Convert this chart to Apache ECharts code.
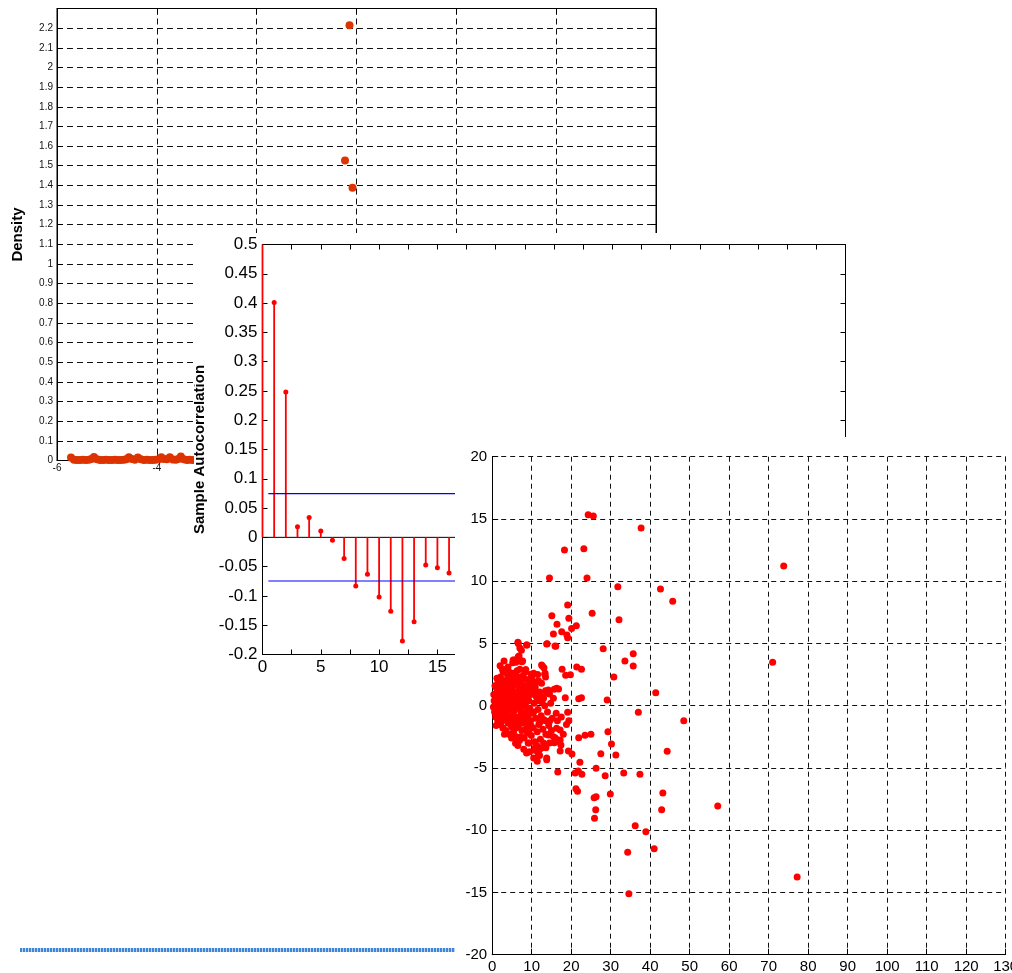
<!DOCTYPE html>
<html>
<head>
<meta charset="utf-8">
<script src="https://cdn.jsdelivr.net/npm/echarts@6/dist/echarts.min.js"></script>
<style>
  html, body { margin: 0; padding: 0; width: 1012px; height: 973px; overflow: hidden; background: #fff; }
  .panel { position: absolute; background: #fff; }
  #band { position: absolute; left: 20px; top: 948px; width: 435px; height: 4px;
          background: repeating-linear-gradient(90deg, #3f86d8 0 2px, #bcd6f2 2px 3px); }
</style>
</head>
<body>
<div id="band"></div>
<div id="density" class="panel" style="left:0;top:0;width:700px;height:500px"></div>
<div id="acf" class="panel" style="left:194px;top:233px;width:670px;height:455px"></div>
<div id="pca" class="panel" style="left:455px;top:437px;width:557px;height:536px"></div>
<script>
// ---------- data ----------
// kernel density estimate: [x, density]
const densityPoints = [
  [-5.72,0.015],[-5.66,0.004],[-5.60,0.003],[-5.54,0.003],[-5.48,0.004],[-5.42,0.003],
  [-5.36,0.004],[-5.31,0.008],[-5.26,0.018],[-5.20,0.006],[-5.14,0.003],[-5.08,0.003],
  [-5.02,0.004],[-4.96,0.003],[-4.90,0.003],[-4.84,0.004],[-4.78,0.003],[-4.72,0.003],
  [-4.66,0.004],[-4.61,0.006],[-4.56,0.016],[-4.50,0.008],[-4.44,0.004],[-4.38,0.015],
  [-4.32,0.006],[-4.26,0.003],[-4.20,0.004],[-4.14,0.003],[-4.08,0.003],[-4.02,0.004],
  [-3.96,0.006],[-3.91,0.016],[-3.86,0.007],[-3.80,0.006],[-3.74,0.016],[-3.68,0.005],
  [-3.62,0.004],[-3.57,0.008],[-3.52,0.020],[-3.46,0.006],[-3.40,0.003],[-3.34,0.004],
  [-3.28,0.003],
  [-0.23,1.527],[-0.14,2.215],[-0.08,1.388]
];
const densityXTicks = { min: -6, max: 6, step: 2 };
const densityYTicks = { min: 0, max: 2.3, step: 0.1 };

// sample autocorrelation by lag
const lags = [0,1,2,3,4,5,6,7,8,9,10,11,12,13,14,15,16];
const acf = [1, 0.401, 0.248, 0.018, 0.034, 0.011, -0.005, -0.036, -0.083, -0.063,
             -0.102, -0.126, -0.177, -0.144, -0.047, -0.052, -0.061];
const acfBound = 0.0745;
const boundLags = [0.5, 20];

// component scores: [x, y]
const scorePoints = [
  [24.3,15.34],[25.6,15.24],[37.7,14.27],[18.3,12.5],[23.2,12.6],[14.5,10.26],[24.0,10.26],
  [31.8,9.56],[42.6,9.37],[45.7,8.38],[19.1,8.09],[15.1,7.23],[19.4,7.02],[25.3,7.42],
  [32.1,6.91],[16.4,6.54],[21.3,6.43],[20.1,6.21],[17.6,5.94],[15.5,5.76],[18.9,5.68],
  [19.1,5.46],[13.9,4.98],[16.1,4.77],[28.1,4.58],[35.7,4.18],[33.6,3.59],[35.7,3.19],
  [8.8,4.88],[6.5,5.09],[7.0,4.63],[7.4,4.45],[6.8,3.99],[5.6,3.67],[7.7,3.59],[5.2,3.45],
  [7.0,2.92],[12.7,3.19],[13.1,3.05],[17.7,2.92],[21.4,3.11],[22.6,2.92],[9.8,2.52],
  [13.3,2.52],[18.6,2.44],[19.8,2.49],[13.5,2.3],[30.8,2.3],[11.7,2.01],[10.5,1.53],
  [15.7,1.32],[16.8,1.34],[13.5,1.2],[41.4,1.04],[11.4,1.04],[14.5,0.94],[12.7,0.72],
  [18.5,0.64],[21.9,0.56],[22.6,0.64],[29.1,0.46],
  [73.8,11.22],[71.0,3.49],[77.2,-13.76],[57.1,-8.06],
  [37.0,-0.53],[48.5,-1.2],[19.1,-0.53],[19.4,-1.2],[18.8,-1.52],[29.3,-2.09],[30.2,-3.08],
  [31.3,-3.96],[44.3,-3.66],[27.5,-3.86],[25.0,-2.3],[23.5,-2.38],[21.9,-2.57],[19.3,-3.64],
  [20.2,-3.88],[22.2,-4.55],[26.3,-5.03],[21.0,-5.41],[21.8,-5.24],[22.7,-5.51],[33.3,-5.41],
  [37.4,-5.51],[28.6,-5.62],[16.6,-5.33],[21.2,-6.67],[21.6,-6.88],[25.8,-7.39],[26.3,-7.31],
  [29.9,-7.09],[43.2,-7.01],[42.9,-8.35],[26.2,-8.35],[25.9,-9.05],[36.2,-9.64],[38.9,-10.12],
  [41.0,-11.49],[34.3,-11.78],[34.6,-15.1],
  [13.8,-4.34],[11.4,-4.47],[8.9,-3.74],[5.9,-3.02],[11.9,-3.56],[17.2,-3.64],[17.4,-3.16],
  [13.6,-3.37],[15.7,-2.97],[15.5,-2.49],[18.0,-2.3],[17.2,-2.75],[16.3,-1.82],[14.6,-1.2],
  [16.2,-0.61],
  [0.3,-0.1],[0.5,0.4],[0.6,-0.5],[0.8,0.9],[0.9,-0.9],[1.0,0.2],[1.1,1.4],[1.2,-0.3],
  [1.3,0.7],[1.4,-1.2],[1.5,1.9],[1.6,0.0],[1.7,-0.7],[1.8,1.1],[1.9,0.4],[2.0,-1.5],
  [2.1,2.3],[2.2,-0.2],[2.3,0.9],[2.4,-0.9],[2.5,1.6],[2.6,0.2],[2.7,-1.8],[2.8,2.7],
  [2.9,-0.5],[3.0,1.2],[3.1,0.5],[3.2,-1.1],[3.3,2.0],[3.4,-0.1],[3.5,-2.0],[3.6,1.5],
  [3.7,0.8],[3.8,-0.6],[3.9,2.4],[4.0,-1.4],[4.1,0.1],[4.2,1.0],[4.3,-2.3],[4.4,1.8],
  [4.5,-0.3],[4.6,0.6],[4.7,-1.0],[4.8,2.2],[4.9,-1.7],[5.0,0.3],[5.1,1.3],[5.2,-0.8],
  [5.3,2.6],[5.4,-2.1],[5.5,0.9],[5.6,-0.4],[5.7,1.7],[5.8,-1.3],[5.9,0.0],[6.0,2.0],
  [6.1,-2.5],[6.2,1.1],[6.3,-0.9],[6.4,0.5],[6.5,2.3],[6.6,-1.6],[6.7,-0.2],[6.8,1.5],
  [6.9,-2.8],[7.0,0.8],[7.1,-1.1],[7.2,1.9],[7.3,-0.5],[7.4,0.2],[7.5,-2.0],[7.6,1.2],
  [7.7,-1.4],[7.8,2.4],[7.9,-0.7],[8.0,0.6],[8.1,-2.6],[8.2,1.6],[8.3,-1.0],[8.4,0.1],
  [8.5,-1.9],[8.6,2.1],[8.7,-0.4],[8.8,1.0],[8.9,-2.2],[9.0,-0.9],[9.1,1.4],[9.2,-1.5],
  [9.3,0.4],[9.4,-3.0],[9.5,-0.2],[9.6,1.8],[9.7,-1.2],[9.8,0.9],[9.9,-2.4],[10.0,-0.6],
  [10.2,1.3],[10.4,-1.8],[10.6,0.2],[10.8,-2.9],[11.0,-1.0],[11.2,0.7],[11.4,-2.1],[11.6,-0.3],
  [11.8,-1.5],[12.0,1.1],[12.2,-2.7],[12.4,-0.8],[12.6,0.3],[12.8,-1.9],[13.0,-1.1],[13.3,0.0],
  [13.6,-2.3],[14.0,-0.5],[14.3,-1.6],[14.8,0.2],[15.2,-1.0],
  [0.4,0.9],[0.7,1.6],[0.8,-0.2],[1.0,-1.6],[1.2,2.2],[1.3,-0.6],[1.5,0.5],[1.7,1.5],
  [1.8,-1.0],[2.0,0.7],[2.2,1.8],[2.3,-1.3],[2.5,0.0],[2.6,2.9],[2.8,-1.0],[3.0,0.3],
  [3.1,-2.3],[3.3,1.0],[3.4,2.9],[3.6,-0.3],[3.8,1.9],[4.0,0.5],[4.2,-0.9],[4.3,2.7],
  [4.5,1.3],[4.7,0.0],[4.9,-2.6],[5.0,1.9],[5.2,0.7],[5.4,-1.2],[5.6,2.2],[5.8,0.4],
  [6.0,-1.8],[6.2,-0.1],[6.3,2.8],[6.5,0.9],[6.7,-1.2],[6.9,1.8],[7.1,0.4],[7.3,-2.5],
  [7.5,1.0],[7.7,0.0],[8.0,-1.3],[8.3,2.7],[8.6,-0.9],[8.9,0.5],[9.2,-2.0],[9.5,1.0],
  [9.8,-1.6],[10.1,2.0],[10.5,-0.5],[10.9,1.5],[11.3,-3.2],[11.7,0.4],[12.1,-1.3],[12.5,-3.4],
  [13.0,0.6],[13.5,-1.2],
  [2.0,3.2],[3.0,3.6],[4.0,3.1],[6.0,3.5],[8.5,2.9],[10.5,2.6],[12.5,1.8],[14.0,1.0],
  [15.0,-2.0],[16.0,-2.6],[13.0,-3.0],[11.0,-3.6],[9.5,-3.7],[6.5,-3.2],[8.0,-3.5],[12.0,-4.0],
  [10.5,-4.2],[14.5,-3.0],[16.5,-1.2],[17.5,-0.9],[15.5,0.6],[11.5,2.5],
  [6.6,5.0],[8.7,4.88],[13.8,4.96],[15.9,4.8],[6.6,3.94],[5.3,3.67],[7.5,3.53],[12.5,3.27],
  [13.4,2.6],[10.0,2.33],[3.2,2.73],[11.3,1.93],[14.2,1.26],[16.3,1.4],
  [6.2,-3.0],[9.1,-3.0],[10.8,-3.4],[8.7,-3.8],[11.7,-3.96],[13.8,-4.2],[16.3,-2.9],
  [17.2,-1.95],[14.2,-2.35]
];
const scoreXTicks = { min: 0, max: 130, step: 10 };
const scoreYTicks = { min: -20, max: 20, step: 5 };

// ---------- shared styles ----------
const FONT = '"Liberation Sans", Arial, Helvetica, sans-serif';
const INK = '#000';
const solidAxis = { show: true, onZero: false, lineStyle: { color: INK, width: 1 } };
const tickIn = (len) => ({ show: true, inside: true, length: len, lineStyle: { color: INK, width: 1 } });
const dashGrid = (dash) => ({ show: true, lineStyle: { color: '#111', width: 1, type: dash } });

// ---------- kernel density panel ----------
const densityChart = echarts.init(document.getElementById('density'));
densityChart.setOption({
  animation: false,
  grid: { left: 57, top: 8.5, width: 599, height: 452, show: true, borderColor: INK,
          borderWidth: 1, backgroundColor: 'transparent', outerBoundsMode: 'none' },
  xAxis: [
    { type: 'value', min: densityXTicks.min, max: densityXTicks.max, interval: densityXTicks.step,
      axisLine: solidAxis, axisTick: tickIn(6),
      axisLabel: { fontSize: 10, color: '#111', margin: 3, fontFamily: FONT },
      splitLine: dashGrid([6, 4]) },
    { type: 'value', position: 'top', min: densityXTicks.min, max: densityXTicks.max,
      interval: densityXTicks.step, axisLine: solidAxis, axisTick: tickIn(6),
      axisLabel: { show: false }, splitLine: { show: false } }
  ],
  yAxis: [
    { type: 'value', min: densityYTicks.min, max: densityYTicks.max, interval: densityYTicks.step,
      name: 'Density', nameLocation: 'middle', nameGap: 32,
      nameTextStyle: { fontWeight: 'bold', fontSize: 15, color: INK, fontFamily: FONT },
      axisLine: solidAxis, axisTick: tickIn(6),
      axisLabel: { fontSize: 10, color: '#111', margin: 4, fontFamily: FONT, showMaxLabel: false },
      splitLine: dashGrid([6, 4]) },
    { type: 'value', position: 'right', min: densityYTicks.min, max: densityYTicks.max,
      interval: densityYTicks.step, axisLine: solidAxis, axisTick: tickIn(5),
      axisLabel: { show: false }, splitLine: { show: false } }
  ],
  series: [
    { type: 'scatter', data: densityPoints, symbolSize: 8, clip: false,
      itemStyle: { color: '#dc3300', opacity: 1 } }
  ]
});

// ---------- sample autocorrelation panel ----------
const acfData = lags.map((l, i) => [l, acf[i]]);
const acfChart = echarts.init(document.getElementById('acf'));
acfChart.setOption({
  animation: false,
  grid: { left: 68.5, top: 11.5, width: 583, height: 410, show: true, borderColor: INK,
          borderWidth: 1, backgroundColor: 'transparent', outerBoundsMode: 'none' },
  xAxis: [
    { type: 'value', min: 0, max: 50, interval: 2.5,
      axisLine: solidAxis, axisTick: tickIn(5),
      axisLabel: { fontSize: 17, color: INK, margin: 4, fontFamily: FONT,
                   formatter: (v) => (v % 5 === 0 ? String(v) : '') },
      splitLine: { show: false } },
    { type: 'value', position: 'top', min: 0, max: 50, interval: 2.5,
      axisLine: solidAxis, axisTick: tickIn(5), axisLabel: { show: false }, splitLine: { show: false } }
  ],
  yAxis: [
    { type: 'value', min: -0.2, max: 0.5, interval: 0.05,
      name: 'Sample Autocorrelation', nameLocation: 'middle', nameGap: 48,
      nameTextStyle: { fontWeight: 'bold', fontSize: 15, color: INK, fontFamily: FONT },
      axisLine: solidAxis, axisTick: tickIn(5),
      axisLabel: { fontSize: 17, color: INK, margin: 5, fontFamily: FONT },
      splitLine: { show: false } },
    { type: 'value', position: 'right', min: -0.2, max: 0.5, interval: 0.05,
      axisLine: solidAxis, axisTick: tickIn(5), axisLabel: { show: false }, splitLine: { show: false } }
  ],
  series: [
    { type: 'line', data: [[0, 0], [50, 0]], symbol: 'none', silent: true,
      lineStyle: { color: INK, width: 1 }, z: 1 },
    { type: 'bar', data: acfData, barWidth: 1.8, clip: true,
      itemStyle: { color: '#ff0000', opacity: 1 }, z: 2 },
    { type: 'scatter', data: acfData, symbolSize: 5, clip: true,
      itemStyle: { color: '#ff0000', opacity: 1 }, z: 3 },
    { type: 'line', data: boundLags.map((l) => [l, acfBound]), symbol: 'none',
      lineStyle: { color: '#0000ff', width: 1.2 }, z: 4 },
    { type: 'line', data: boundLags.map((l) => [l, -acfBound]), symbol: 'none',
      lineStyle: { color: '#0000ff', width: 1.2 }, z: 4 }
  ]
});

// ---------- component score panel ----------
const scoreChart = echarts.init(document.getElementById('pca'));
scoreChart.setOption({
  animation: false,
  grid: { left: 37.2, top: 19.7, width: 513.5, height: 498, show: false, outerBoundsMode: 'none' },
  xAxis: { type: 'value', min: scoreXTicks.min, max: scoreXTicks.max, interval: scoreXTicks.step,
           axisLine: solidAxis, axisTick: tickIn(6),
           axisLabel: { fontSize: 15, color: INK, margin: 5, fontFamily: FONT },
           splitLine: dashGrid([5, 4]) },
  yAxis: { type: 'value', min: scoreYTicks.min, max: scoreYTicks.max, interval: scoreYTicks.step,
           axisLine: solidAxis, axisTick: tickIn(6),
           axisLabel: { fontSize: 15, color: INK, margin: 5, fontFamily: FONT },
           splitLine: dashGrid([5, 4]) },
  series: [
    { type: 'scatter', data: scorePoints, symbolSize: 7, clip: false,
      itemStyle: { color: '#ff0000', opacity: 1 } }
  ]
});
</script>
</body>
</html>
